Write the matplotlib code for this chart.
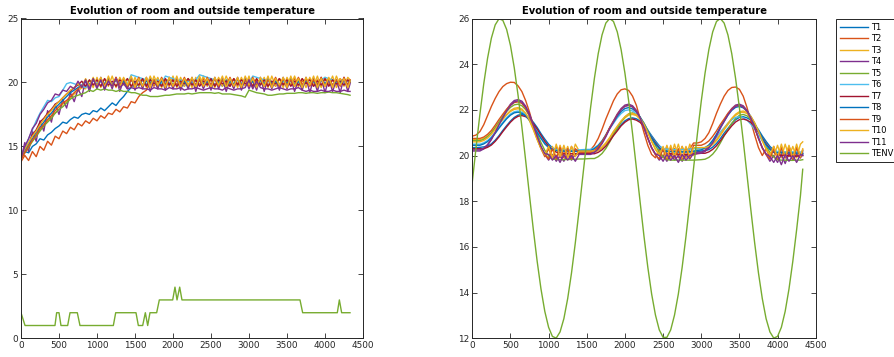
import matplotlib
matplotlib.use('Agg')
import matplotlib.pyplot as plt

# sample times (s), shared by every room series
time_s = list(range(0, 4301, 50)) + [4330]

# ---- left panel: warm-up run ----
left_T1 = [14.2, 14.6, 14.5, 15.0, 15.2, 15.6, 15.5, 15.9, 16.1, 16.4,
           16.6, 16.9, 16.8, 17.1, 17.3, 17.2, 17.5, 17.6, 17.5, 17.8,
           17.7, 18.0, 17.8, 18.1, 18.4, 18.2, 18.6, 18.9, 19.3, 19.6,
           20.0, 19.7, 20.2, 19.8, 20.3, 19.9, 20.1, 19.7, 20.2, 19.9,
           20.2, 19.8, 20.1, 19.7, 20.3, 19.9, 20.2, 19.8, 20.1, 19.9,
           20.3, 19.8, 20.1, 19.7, 20.2, 20.0, 19.8, 20.2, 19.9, 20.3,
           19.8, 20.1, 19.7, 20.2, 19.9, 20.3, 19.8, 20.1, 19.7, 20.2,
           19.9, 20.1, 19.8, 20.3, 19.7, 20.2, 19.9, 20.1, 19.6, 20.2,
           19.8, 20.3, 19.7, 20.1, 19.9, 20.2, 19.8, 20.0]
left_T2 = [13.8, 14.3, 13.9, 14.6, 14.2, 15.0, 14.7, 15.4, 15.1, 15.8,
           15.6, 16.2, 16.0, 16.5, 16.3, 16.8, 16.6, 17.0, 16.8, 17.2,
           17.0, 17.4, 17.2, 17.6, 17.5, 17.9, 17.7, 18.1, 18.0, 18.5,
           18.4, 18.9, 19.2, 19.4, 20.1, 19.7, 20.3, 19.8, 20.2, 19.7,
           20.3, 19.8, 20.2, 19.9, 20.3, 19.7, 20.2, 19.8, 20.3, 19.9,
           20.2, 19.7, 20.3, 19.8, 20.1, 19.7, 20.3, 19.9, 20.2, 19.8,
           20.3, 19.7, 20.2, 19.9, 20.3, 19.8, 20.1, 19.7, 20.3, 19.9,
           20.2, 19.8, 20.3, 19.7, 20.1, 19.9, 20.3, 19.8, 20.2, 19.7,
           20.3, 19.9, 20.2, 19.8, 20.3, 19.9, 20.2, 20.1]
left_T3 = [14.0, 14.6, 15.1, 15.4, 15.9, 16.3, 16.6, 17.0, 17.4, 17.6,
           17.9, 18.3, 18.5, 18.8, 19.1, 19.3, 19.6, 19.5, 20.2, 19.6,
           20.4, 19.6, 20.3, 19.7, 20.5, 19.6, 20.4, 19.8, 20.3, 19.6,
           20.4, 19.7, 20.3, 19.6, 20.5, 19.8, 20.4, 19.6, 20.3, 19.7,
           20.5, 19.6, 20.4, 19.7, 20.3, 19.6, 20.4, 19.8, 20.5, 19.7,
           20.3, 19.6, 20.4, 19.7, 20.5, 19.8, 20.3, 19.6, 20.4, 19.7,
           20.5, 19.6, 20.3, 19.8, 20.4, 19.6, 20.5, 19.7, 20.3, 19.6,
           20.4, 19.8, 20.5, 19.7, 20.3, 19.6, 20.4, 19.7, 20.5, 19.6,
           20.4, 19.8, 20.5, 19.6, 20.3, 19.7, 20.4, 20.2]
left_T4 = [14.0, 15.3, 14.6, 16.2, 15.4, 17.0, 16.2, 17.8, 16.9, 18.3,
           17.5, 18.7, 18.0, 19.2, 18.5, 19.5, 18.9, 20.2, 19.3, 20.3,
           19.5, 20.4, 19.4, 20.3, 19.5, 20.4, 19.3, 20.2, 19.5, 20.4,
           19.4, 20.3, 19.5, 20.4, 19.3, 20.2, 19.5, 20.3, 19.4, 20.4,
           19.5, 20.3, 19.4, 20.2, 19.5, 20.4, 19.3, 20.3, 19.5, 20.2,
           19.4, 20.4, 19.5, 20.3, 19.3, 20.2, 19.5, 20.4, 19.4, 20.3,
           19.5, 20.2, 19.4, 20.4, 19.3, 20.3, 19.5, 20.2, 19.4, 20.4,
           19.5, 20.3, 19.3, 20.2, 19.4, 20.4, 19.2, 20.3, 19.3, 20.4,
           19.2, 20.3, 19.3, 20.2, 19.2, 20.4, 19.3, 19.9]
left_T5 = [14.1, 14.5, 14.9, 15.4, 15.8, 16.2, 16.6, 16.9, 17.2, 17.6,
           17.9, 18.1, 18.4, 18.7, 18.9, 19.0, 19.1, 19.2, 19.4, 19.3,
           19.5, 19.4, 19.5, 19.4, 19.4, 19.3, 19.4, 19.3, 19.3, 19.2,
           19.2, 19.1, 19.0, 19.0, 18.9, 18.9, 18.9, 18.95, 19.0, 19.0,
           19.05, 19.1, 19.1, 19.1, 19.15, 19.1, 19.15, 19.2, 19.2, 19.2,
           19.2, 19.15, 19.2, 19.1, 19.1, 19.1, 19.05, 19.0, 18.95, 18.85,
           19.4, 19.3, 19.2, 19.15, 19.1, 19.0, 19.0, 19.05, 19.1, 19.1,
           19.15, 19.15, 19.15, 19.2, 19.2, 19.15, 19.2, 19.2, 19.15, 19.2,
           19.2, 19.25, 19.2, 19.2, 19.15, 19.1, 19.05, 19.0]
left_T6 = [14.0, 14.9, 15.6, 16.3, 17.0, 17.6, 18.1, 18.6, 18.5, 18.8,
           18.9, 19.4, 19.9, 20.0, 19.9, 19.8, 19.7, 19.6, 19.9, 20.2,
           19.9, 20.2, 19.9, 20.1, 19.8, 20.2, 19.9, 20.1, 19.9, 20.6,
           20.5, 20.4, 20.3, 20.2, 20.1, 20.0, 20.2, 19.9, 20.5, 20.4,
           20.3, 20.1, 20.2, 19.9, 20.1, 19.9, 20.2, 20.6, 20.5, 20.4,
           20.3, 20.2, 20.0, 20.2, 19.9, 20.1, 19.8, 20.2, 19.9, 20.1,
           20.0, 20.5, 20.4, 20.3, 20.2, 20.1, 19.9, 20.2, 19.9, 20.1,
           19.8, 20.2, 19.9, 20.1, 19.8, 20.2, 19.9, 20.1, 19.9, 20.2,
           20.4, 20.3, 20.2, 20.0, 20.1, 19.9, 20.1, 20.0]
left_T7 = [14.0, 14.8, 15.2, 15.9, 16.3, 16.9, 17.2, 17.6, 17.9, 18.3,
           18.5, 18.8, 19.1, 19.3, 19.6, 19.8, 20.1, 19.7, 20.2, 19.8,
           20.2, 19.7, 20.3, 19.8, 20.1, 19.7, 20.2, 19.9, 20.3, 19.7,
           20.1, 19.8, 20.3, 19.7, 20.2, 19.9, 20.1, 19.7, 20.3, 19.8,
           20.2, 19.7, 20.1, 19.9, 20.3, 19.8, 20.2, 19.7, 20.1, 19.8,
           20.3, 19.7, 20.2, 19.9, 20.1, 19.7, 20.3, 19.8, 20.2, 19.9,
           20.1, 19.7, 20.3, 19.8, 20.2, 19.7, 20.1, 19.9, 20.3, 19.8,
           20.2, 19.7, 20.1, 19.8, 20.3, 19.9, 20.2, 19.7, 20.1, 19.8,
           20.3, 19.7, 20.2, 19.9, 20.1, 19.8, 20.2, 20.0]
left_T8 = [14.3, 14.7, 15.2, 15.6, 16.1, 16.5, 16.9, 17.3, 17.6, 18.0,
           18.3, 18.6, 18.9, 19.2, 19.4, 19.6, 19.8, 20.1, 19.8, 20.2,
           19.8, 20.1, 19.9, 20.3, 19.8, 20.2, 19.9, 20.1, 19.7, 20.2,
           19.9, 20.3, 19.8, 20.1, 19.9, 20.2, 19.7, 20.1, 19.9, 20.3,
           19.8, 20.2, 19.9, 20.1, 19.7, 20.3, 19.8, 20.2, 19.9, 20.1,
           19.8, 20.3, 19.9, 20.2, 19.7, 20.1, 19.9, 20.3, 19.8, 20.2,
           19.9, 20.1, 19.7, 20.2, 19.8, 20.3, 19.9, 20.1, 19.8, 20.2,
           19.9, 20.3, 19.8, 20.1, 19.7, 20.2, 19.9, 20.1, 19.8, 20.3,
           19.9, 20.2, 19.8, 20.1, 19.9, 20.3, 19.8, 20.1]
left_T9 = [14.0, 14.5, 15.0, 15.5, 15.9, 16.4, 16.7, 17.1, 17.4, 17.8,
           18.1, 18.4, 18.6, 18.9, 19.2, 19.5, 19.7, 20.2, 19.7, 20.3,
           19.7, 20.3, 19.8, 20.2, 19.7, 20.4, 19.8, 20.3, 19.7, 20.2,
           19.8, 20.4, 19.7, 20.3, 19.8, 20.2, 19.7, 20.4, 19.8, 20.3,
           19.7, 20.2, 19.8, 20.4, 19.7, 20.3, 19.8, 20.2, 19.7, 20.4,
           19.8, 20.3, 19.7, 20.2, 19.8, 20.4, 19.7, 20.3, 19.8, 20.2,
           19.7, 20.4, 19.8, 20.3, 19.7, 20.2, 19.8, 20.4, 19.7, 20.3,
           19.8, 20.2, 19.7, 20.4, 19.8, 20.3, 19.7, 20.2, 19.8, 20.4,
           19.7, 20.3, 19.8, 20.2, 19.7, 20.4, 19.8, 20.2]
left_T10 = [14.2, 14.8, 15.3, 15.8, 16.2, 16.7, 17.1, 17.5, 17.8, 18.2,
            18.5, 18.8, 19.1, 19.4, 19.6, 19.9, 19.6, 20.3, 19.7, 20.4,
            19.7, 20.4, 19.6, 20.5, 19.7, 20.3, 19.6, 20.4, 19.8, 20.5,
            19.6, 20.3, 19.7, 20.4, 19.6, 20.5, 19.8, 20.3, 19.6, 20.4,
            19.7, 20.5, 19.6, 20.3, 19.8, 20.4, 19.6, 20.5, 19.7, 20.3,
            19.6, 20.4, 19.8, 20.5, 19.6, 20.3, 19.7, 20.4, 19.6, 20.5,
            19.8, 20.3, 19.6, 20.4, 19.7, 20.5, 19.6, 20.3, 19.8, 20.4,
            19.6, 20.5, 19.7, 20.3, 19.6, 20.4, 19.8, 20.5, 19.6, 20.3,
            19.7, 20.4, 19.6, 20.5, 19.8, 20.3, 19.6, 20.1]
left_T11 = [14.1, 15.0, 15.6, 16.4, 16.8, 17.5, 17.9, 18.4, 18.6, 19.1,
            19.0, 19.4, 19.3, 19.7, 19.5, 20.1, 19.6, 20.2, 19.5, 20.3,
            19.6, 20.2, 19.5, 20.1, 19.7, 20.3, 19.6, 19.9, 19.5, 19.6,
            19.5, 19.6, 19.5, 19.5, 19.4, 19.6, 19.5, 19.5, 19.4, 19.6,
            19.5, 19.5, 19.6, 19.4, 19.5, 19.5, 19.6, 19.5, 19.4, 19.5,
            19.6, 19.5, 19.5, 19.4, 19.6, 19.5, 19.4, 19.5, 19.5, 19.6,
            20.2, 19.5, 20.1, 19.6, 19.5, 19.5, 19.4, 19.5, 19.6, 19.5,
            19.4, 19.5, 19.5, 19.6, 19.4, 19.3, 19.4, 19.3, 19.3, 19.4,
            19.3, 19.3, 19.4, 19.3, 19.3, 19.4, 19.3, 19.3]
# outside temperature, left run (step changes)
left_tenv_t = [0, 53, 447, 469, 500, 526, 614, 645, 741, 776, 1215, 1246,
               1513, 1544, 1601, 1636, 1667, 1697, 1785, 1820, 1996, 2026,
               2053, 2088, 2118, 3671, 3706, 4162, 4189, 4219, 4329]
left_tenv = [2, 1, 1, 2, 2, 1, 1, 2, 2, 1, 1, 2, 2, 1, 1, 2, 1, 2, 2, 3,
             3, 4, 3, 4, 3, 3, 2, 2, 3, 2, 2]

# ---- right panel: sinusoidal outside temperature ----
right_T1 = [20.35, 20.35, 20.36, 20.38, 20.41, 20.51, 20.67, 20.87, 21.1, 21.31,
            21.51, 21.67, 21.77, 21.8, 21.75, 21.65, 21.46, 21.23, 20.96, 20.72,
            20.5, 20.34, 20.25, 20.22, 20.2, 20.2, 20.18, 20.18, 20.17, 20.17,
            20.17, 20.17, 20.17, 20.23, 20.33, 20.5, 20.7, 20.94, 21.15, 21.35,
            21.52, 21.62, 21.65, 21.61, 21.51, 21.33, 21.11, 20.87, 20.64, 20.43,
            20.29, 20.2, 20.18, 20.17, 20.16, 20.16, 20.15, 20.15, 20.16, 20.17,
            20.2, 20.22, 20.26, 20.37, 20.53, 20.74, 20.98, 21.19, 21.4, 21.57,
            21.67, 21.7, 21.65, 21.55, 21.36, 21.13, 20.86, 20.62, 20.4, 20.24,
            20.15, 20.1, 20.15, 20.05, 20.12, 20.08, 20.1, 20.05]
right_T2 = [20.85, 20.9, 21.05, 21.35, 21.75, 22.15, 22.5, 22.8, 23.02, 23.15,
            23.21, 23.2, 23.05, 22.8, 22.4, 21.9, 21.3, 20.75, 20.3, 19.95,
            20.3, 19.9, 20.4, 19.9, 20.3, 19.9, 20.4, 20.0, 20.2, 20.15,
            20.15, 20.25, 20.45, 20.75, 21.15, 21.6, 22.0, 22.4, 22.7, 22.88,
            22.92, 22.85, 22.6, 22.2, 21.6, 21.0, 20.45, 20.05, 19.9, 20.3,
            19.9, 20.4, 19.9, 20.3, 19.9, 20.4, 19.9, 20.3, 20.55, 20.55,
            20.6, 20.75, 21.0, 21.4, 21.85, 22.25, 22.6, 22.85, 22.98, 23.0,
            22.9, 22.6, 22.1, 21.5, 20.9, 20.35, 20.0, 20.3, 19.9, 20.4,
            19.9, 20.3, 19.9, 20.4, 20.0, 20.3, 20.0, 20.2]
right_T3 = [20.7, 20.7, 20.7, 20.75, 20.85, 21.0, 21.19, 21.4, 21.59, 21.78,
            21.93, 22.02, 22.05, 21.99, 21.8, 21.52, 21.13, 20.7, 20.31, 20.04,
            19.9, 20.4, 19.9, 20.45, 19.95, 20.4, 19.9, 20.5, 20.2, 20.15,
            20.15, 20.15, 20.15, 20.22, 20.33, 20.51, 20.74, 21.01, 21.24, 21.47,
            21.65, 21.77, 21.8, 21.75, 21.58, 21.33, 20.99, 20.61, 20.27, 20.04,
            19.95, 20.45, 19.9, 20.5, 19.95, 20.4, 19.9, 20.5, 20.0, 20.3,
            20.3, 20.3, 20.36, 20.48, 20.65, 20.88, 21.13, 21.36, 21.58, 21.76,
            21.87, 21.9, 21.84, 21.67, 21.41, 21.05, 20.65, 20.29, 20.04, 19.95,
            20.45, 19.9, 20.5, 19.95, 20.4, 19.9, 20.5, 20.6]
right_T4 = [20.2, 20.2, 20.2, 20.29, 20.45, 20.7, 21.01, 21.37, 21.69, 22.0,
            22.25, 22.41, 22.45, 22.38, 22.16, 21.81, 21.35, 20.83, 20.37, 20.05,
            19.8, 20.05, 19.75, 20.0, 19.75, 20.1, 19.8, 20.05, 20.1, 20.1,
            20.1, 20.1, 20.19, 20.34, 20.57, 20.87, 21.22, 21.52, 21.82, 22.06,
            22.21, 22.25, 22.18, 21.98, 21.67, 21.24, 20.77, 20.34, 20.05, 19.8,
            20.0, 19.75, 20.05, 19.8, 20.0, 19.75, 20.05, 19.85, 20.1, 20.15,
            20.15, 20.23, 20.38, 20.61, 20.91, 21.24, 21.54, 21.83, 22.06, 22.21,
            22.25, 22.18, 21.98, 21.67, 21.24, 20.77, 20.34, 20.05, 19.75, 20.0,
            19.7, 20.05, 19.65, 20.1, 19.8, 20.05, 19.9, 20.1]
right_T5 = [20.65, 20.65, 20.65, 20.71, 20.83, 21.0, 21.23, 21.48, 21.71, 21.93,
            22.11, 22.22, 22.25, 22.18, 22.01, 21.72, 21.36, 20.95, 20.57, 20.23,
            19.99, 19.85, 19.83, 19.82, 19.82, 19.83, 19.83, 19.84, 19.85, 19.85,
            19.86, 19.87, 19.87, 19.95, 20.09, 20.31, 20.59, 20.91, 21.19, 21.47,
            21.69, 21.83, 21.87, 21.81, 21.67, 21.42, 21.11, 20.76, 20.44, 20.15,
            19.94, 19.82, 19.8, 19.8, 19.8, 19.8, 19.8, 19.8, 19.8, 19.81,
            19.82, 19.84, 19.92, 20.06, 20.27, 20.55, 20.86, 21.13, 21.41, 21.62,
            21.76, 21.8, 21.74, 21.6, 21.36, 21.07, 20.73, 20.41, 20.14, 19.94,
            19.82, 19.8, 19.8, 19.79, 19.79, 19.8, 19.8, 19.82]
right_T6 = [20.5, 20.5, 20.5, 20.56, 20.66, 20.82, 21.02, 21.25, 21.46, 21.66,
            21.82, 21.92, 21.95, 21.9, 21.79, 21.59, 21.34, 21.06, 20.8, 20.56,
            20.4, 20.3, 20.27, 20.25, 20.25, 20.24, 20.24, 20.24, 20.25, 20.26,
            20.27, 20.27, 20.34, 20.46, 20.65, 20.89, 21.17, 21.41, 21.65, 21.84,
            21.97, 22.0, 21.95, 21.83, 21.63, 21.37, 21.08, 20.81, 20.57, 20.4,
            20.3, 20.28, 20.27, 20.26, 20.26, 20.26, 20.27, 20.28, 20.3, 20.3,
            20.3, 20.36, 20.45, 20.61, 20.8, 21.03, 21.22, 21.42, 21.57, 21.67,
            21.7, 21.66, 21.55, 21.37, 21.15, 20.89, 20.65, 20.44, 20.29, 20.2,
            20.18, 20.2, 20.15, 20.2, 20.16, 20.18, 20.15, 20.2]
right_T7 = [20.3, 20.3, 20.3, 20.3, 20.36, 20.46, 20.62, 20.82, 21.05, 21.26,
            21.46, 21.62, 21.72, 21.75, 21.7, 21.59, 21.4, 21.16, 20.89, 20.63,
            20.41, 20.25, 20.15, 20.12, 20.1, 20.1, 20.08, 20.08, 20.07, 20.07,
            20.08, 20.08, 20.08, 20.14, 20.25, 20.41, 20.63, 20.87, 21.08, 21.3,
            21.46, 21.57, 21.6, 21.55, 21.45, 21.27, 21.05, 20.79, 20.55, 20.34,
            20.19, 20.1, 20.08, 20.07, 20.06, 20.05, 20.05, 20.05, 20.06, 20.08,
            20.1, 20.1, 20.16, 20.27, 20.43, 20.64, 20.88, 21.09, 21.3, 21.47,
            21.57, 21.6, 21.55, 21.45, 21.26, 21.03, 20.76, 20.52, 20.3, 20.14,
            20.05, 20.0, 20.02, 19.98, 20.0, 19.97, 20.0, 20.0]
right_T8 = [20.45, 20.45, 20.45, 20.51, 20.61, 20.77, 20.97, 21.2, 21.41, 21.61,
            21.77, 21.87, 21.9, 21.85, 21.74, 21.54, 21.29, 21.01, 20.75, 20.51,
            20.35, 20.25, 20.22, 20.2, 20.2, 20.2, 20.2, 20.2, 20.21, 20.22,
            20.22, 20.22, 20.3, 20.43, 20.63, 20.9, 21.2, 21.46, 21.72, 21.93,
            22.06, 22.1, 22.04, 21.91, 21.68, 21.4, 21.07, 20.77, 20.5, 20.31,
            20.2, 20.18, 20.17, 20.17, 20.16, 20.16, 20.17, 20.18, 20.2, 20.22,
            20.25, 20.33, 20.46, 20.67, 20.93, 21.24, 21.5, 21.77, 21.98, 22.11,
            22.15, 22.09, 21.95, 21.71, 21.41, 21.07, 20.75, 20.47, 20.27, 20.15,
            20.12, 20.15, 20.08, 20.14, 20.1, 20.12, 20.08, 20.1]
right_T9 = [20.75, 20.75, 20.75, 20.81, 20.93, 21.1, 21.33, 21.58, 21.81, 22.03,
            22.21, 22.32, 22.35, 22.28, 22.07, 21.74, 21.29, 20.8, 20.35, 20.05,
            19.85, 20.3, 19.85, 20.35, 19.9, 20.3, 19.85, 20.3, 20.15, 20.15,
            20.15, 20.15, 20.23, 20.38, 20.6, 20.89, 21.22, 21.5, 21.79, 22.02,
            22.16, 22.2, 22.13, 21.94, 21.63, 21.21, 20.75, 20.33, 20.04, 19.85,
            20.3, 19.85, 20.35, 19.9, 20.3, 19.85, 20.35, 19.9, 20.45, 20.45,
            20.45, 20.52, 20.64, 20.84, 21.08, 21.36, 21.6, 21.85, 22.04, 22.17,
            22.2, 22.13, 21.94, 21.63, 21.21, 20.75, 20.33, 20.04, 19.85, 20.3,
            19.85, 20.35, 19.9, 20.3, 19.85, 20.35, 19.9, 20.25]
right_T10 = [20.6, 20.6, 20.6, 20.66, 20.77, 20.93, 21.14, 21.38, 21.59, 21.8,
             21.97, 22.07, 22.1, 22.04, 21.85, 21.55, 21.16, 20.71, 20.32, 20.04,
             20.4, 19.9, 20.5, 19.95, 20.45, 19.9, 20.4, 19.95, 20.2, 20.2,
             20.2, 20.2, 20.2, 20.27, 20.38, 20.56, 20.79, 21.06, 21.29, 21.52,
             21.7, 21.82, 21.85, 21.79, 21.63, 21.37, 21.02, 20.63, 20.28, 20.04,
             20.4, 19.9, 20.45, 19.95, 20.5, 19.9, 20.4, 19.95, 20.35, 20.35,
             20.35, 20.35, 20.41, 20.53, 20.7, 20.93, 21.18, 21.41, 21.63, 21.81,
             21.92, 21.95, 21.89, 21.72, 21.44, 21.07, 20.66, 20.29, 20.04, 20.4,
             19.9, 20.5, 19.95, 20.45, 19.9, 20.5, 19.95, 20.3]
right_T11 = [20.25, 20.25, 20.25, 20.33, 20.48, 20.72, 21.01, 21.35, 21.65, 21.95,
             22.19, 22.35, 22.4, 22.33, 22.12, 21.78, 21.34, 20.84, 20.4, 20.08,
             20.05, 19.8, 20.0, 19.7, 20.05, 19.8, 20.0, 19.75, 20.05, 20.05,
             20.05, 20.05, 20.14, 20.29, 20.52, 20.82, 21.17, 21.47, 21.77, 22.01,
             22.16, 22.2, 22.13, 21.94, 21.64, 21.22, 20.76, 20.35, 20.07, 20.0,
             19.75, 20.05, 19.8, 20.0, 19.7, 20.05, 19.8, 20.0, 20.05, 20.1,
             20.1, 20.18, 20.33, 20.56, 20.86, 21.19, 21.49, 21.78, 22.01, 22.16,
             22.2, 22.13, 21.94, 21.64, 21.22, 20.76, 20.35, 20.07, 19.95, 19.7,
             20.0, 19.6, 20.05, 19.75, 20.0, 19.7, 20.05, 20.0]
right_TENV = [18.85, 20.37, 21.82, 23.14, 24.26, 25.14, 25.72, 25.99, 25.92, 25.52,
              24.82, 23.84, 22.63, 21.25, 19.76, 18.24, 16.75, 15.37, 14.16, 13.18,
              12.48, 12.08, 12.01, 12.28, 12.86, 13.74, 14.86, 16.18, 17.63, 19.15,
              20.66, 22.1, 23.38, 24.46, 25.28, 25.8, 26.0, 25.87, 25.41, 24.64,
              23.61, 22.37, 20.96, 19.46, 17.94, 16.46, 15.11, 13.94, 13.02, 12.37,
              12.04, 12.04, 12.37, 13.02, 13.94, 15.11, 16.46, 17.94, 19.46, 20.96,
              22.37, 23.61, 24.64, 25.41, 25.87, 26.0, 25.8, 25.28, 24.46, 23.38,
              22.1, 20.66, 19.15, 17.63, 16.18, 14.86, 13.74, 12.86, 12.28, 12.01,
              12.08, 12.48, 13.18, 14.16, 15.37, 16.75, 18.24, 19.4]

labels = ['T1', 'T2', 'T3', 'T4', 'T5', 'T6', 'T7', 'T8', 'T9', 'T10', 'T11', 'TENV']
# MATLAB default colour order
colors = ['#0072BD', '#D95319', '#EDB120', '#7E2F8E', '#77AC30', '#4DBEEE',
          '#A2142F', '#0072BD', '#D95319', '#EDB120', '#7E2F8E', '#77AC30']

left_rooms = [left_T1, left_T2, left_T3, left_T4, left_T5, left_T6,
              left_T7, left_T8, left_T9, left_T10, left_T11]
right_rooms = [right_T1, right_T2, right_T3, right_T4, right_T5, right_T6,
               right_T7, right_T8, right_T9, right_T10, right_T11]

plt.rcParams['font.family'] = 'DejaVu Sans'
fig = plt.figure(figsize=(8.94, 3.57), dpi=100)
axL = fig.add_axes([21 / 894, 1 - 338.3 / 357, 342 / 894, 319.8 / 357])
axR = fig.add_axes([472.3 / 894, 1 - 338.3 / 357, 343.4 / 894, 319.8 / 357])

lw = 1.0
for vals, c in zip(left_rooms, colors):
    axL.plot(time_s, vals, color=c, lw=lw)
axL.plot(left_tenv_t, left_tenv, color=colors[11], lw=lw)

for vals, c, lab in zip(right_rooms, colors, labels):
    axR.plot(time_s, vals, color=c, lw=lw, label=lab)
axR.plot(time_s, right_TENV, color=colors[11], lw=lw, label='TENV')

axL.set_xlim(0, 4500)
axL.set_ylim(0, 25)
axL.set_yticks([0, 5, 10, 15, 20, 25])
axR.set_xlim(0, 4500)
axR.set_ylim(12, 26)
axR.set_yticks([12, 14, 16, 18, 20, 22, 24, 26])

for ax in (axL, axR):
    ax.set_xticks(range(0, 4501, 500))
    ax.tick_params(direction='in', length=3.5, width=0.6, top=True, right=True,
                   labelsize=6.4, colors='#262626', pad=2)
    for sp in ax.spines.values():
        sp.set_color('#262626')
        sp.set_linewidth(0.7)
    ax.set_title('Evolution of room and outside temperature', fontsize=7.2,
                 fontweight='bold', pad=3)

leg = axR.legend(loc='upper left', bbox_to_anchor=(836 / 894, 1 - 19 / 357),
                 bbox_transform=fig.transFigure, fontsize=6, frameon=True,
                 fancybox=False, edgecolor='#262626', framealpha=1,
                 handlelength=3.4, handletextpad=0.4, labelspacing=0.3,
                 borderpad=0.45, borderaxespad=0)
leg.get_frame().set_linewidth(0.7)

fig.savefig('out.png', dpi=100)
